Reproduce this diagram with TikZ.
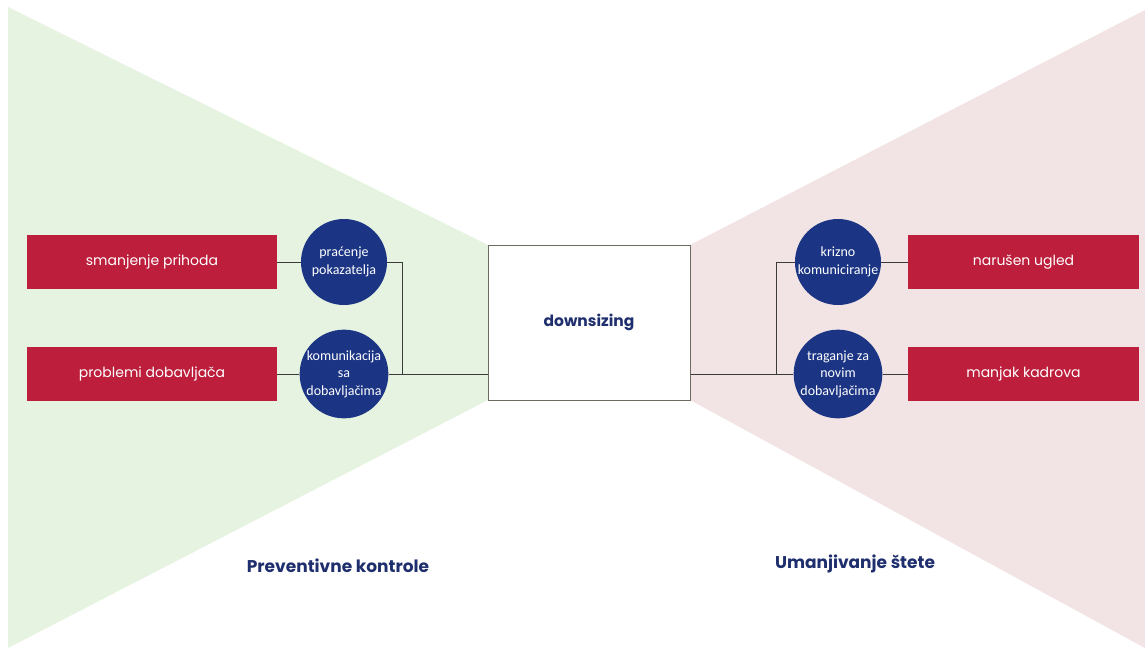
\documentclass[tikz,border=0pt]{standalone}
\usepackage{fontspec}
\setmainfont{Poppins}
\newfontfamily\circfont{Carlito}
\usetikzlibrary{positioning}
\definecolor{riskred}{HTML}{BC1E3C}
\definecolor{ctrlblue}{HTML}{1B3584}
\definecolor{titleblue}{HTML}{1F2F6E}
\definecolor{preventgreen}{HTML}{E6F3E1}
\definecolor{damagepink}{HTML}{F2E3E4}
\definecolor{linegray}{HTML}{3A3A3A}
\definecolor{boxgray}{HTML}{6E6A60}
\tikzstyle{risk} = [rectangle, fill=riskred, text=white, minimum width=250pt, minimum height=54pt, inner sep=0pt, font=\fontsize{14}{16}\selectfont]
\tikzstyle{control} = [circle, fill=ctrlblue, text=white, minimum size=86pt, inner sep=0pt, align=center, font=\circfont\fontsize{14}{17.5}\selectfont]
\tikzstyle{event} = [rectangle, draw=boxgray, line width=1pt, fill=white, minimum width=202pt, minimum height=155pt, text=titleblue, font=\bfseries\fontsize{15.5}{18}\selectfont]
\tikzstyle{sidetitle} = [text=titleblue, font=\bfseries\fontsize{17}{19}\selectfont]
\tikzstyle{link} = [draw=linegray, line width=0.8pt]

\begin{document}
\begin{tikzpicture}[x=1pt,y=-1pt]
\useasboundingbox (0,0) rectangle (1145,648);

\fill[preventgreen] (8,7) -- (488,245) -- (488,400) -- (8,648) -- cycle;
\fill[damagepink] (1145,10) -- (690,245) -- (690,400) -- (1145,648) -- cycle;

\node (event) [event] at (589,322.5) {downsizing};

\node (risk1) [risk] at (152,262) {smanjenje prihoda};
\node (risk2) [risk] at (152,374) {problemi dobavljača};
\node (prev1) [control] at (344,262) {praćenje\\pokazatelja};
\node (prev2) [control] at (344,374) {komunikacija\\sa\\dobavljačima};

\node (mit1) [control] at (838,262) {krizno\\komuniciranje};
\node (mit2) [control] at (838,374) {traganje za\\novim\\dobavljačima};
\node (cons1) [risk, minimum width=231pt] at (1023.5,262) {narušen ugled};
\node (cons2) [risk, minimum width=231pt] at (1023.5,374) {manjak kadrova};

\node (prevtitle) [sidetitle] at (338,566) {Preventivne kontrole};
\node (mittitle) [sidetitle] at (855,564) {Umanjivanje štete};

\coordinate (leftjoin) at (402,374);
\coordinate (rightjoin) at (776,374);

\draw[link] (risk1) -- (prev1);
\draw[link] (risk2) -- (prev2);
\draw[link] (prev1) -| (leftjoin);
\draw[link] (prev2) -- (prev2 -| event.west);
\draw[link] (event.east |- mit2) -- (mit2);
\draw[link] (rightjoin) |- (mit1);
\draw[link] (mit1) -- (cons1);
\draw[link] (mit2) -- (cons2);
\end{tikzpicture}
\end{document}
